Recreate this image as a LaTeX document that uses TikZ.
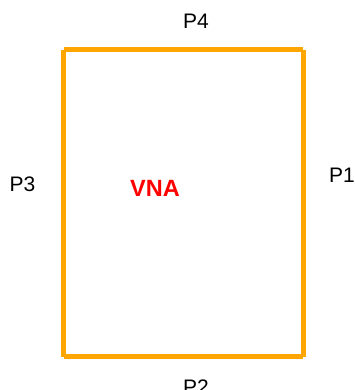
\documentclass[tikz,border=0pt]{standalone}
\usepackage{fontspec}
\setmainfont{Liberation Sans}
\usepackage{tikz}
\usetikzlibrary{positioning}
\definecolor{portorange}{RGB}{255,165,0}

\begin{document}
\begin{tikzpicture}[x=1pt, y=1pt]
		\tikzstyle{Side}	= [line width=5pt, portorange, line cap=butt]
		\tikzstyle{Port}	= [inner sep=0pt, font=\fontsize{21}{25}\selectfont]
		\tikzstyle{Box}		= [inner sep=0pt, font=\fontsize{23.5}{28}\selectfont\bfseries, red]

		\useasboundingbox (0,0) rectangle (355,390);

		\coordinate (c1) at (63.5, 340);
		\coordinate (c2) at (303, 340);
		\coordinate (c3) at (303, 33);
		\coordinate (c4) at (63.5, 33);

		\node (p4) at (196, 369) [Port] {P4};
		\node (p1) at (342, 215) [Port] {P1};
		\node (p3) at (22.5, 206) [Port] {P3};
		\node (p2) at (196, 3) [Port] {P2};
		\node (vna) at (155, 202) [Box] {VNA};

		\draw [-] (c1) to (c2) [Side];
		\draw [-] (c2) to (c3) [Side];
		\draw [-] (c3) to (c4) [Side];
		\draw [-] (c4) to (c1) [Side];
	\end{tikzpicture}
\end{document}
